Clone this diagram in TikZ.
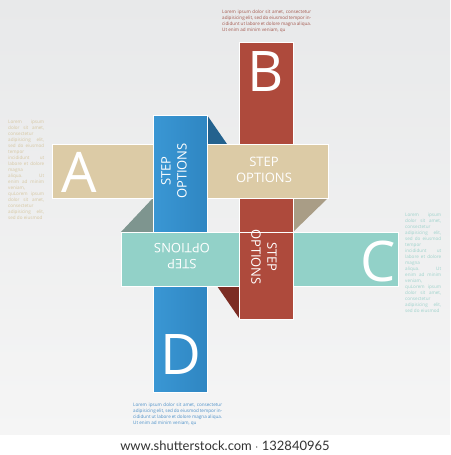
\documentclass[tikz,border=0pt]{standalone}
\usepackage{fontspec}
\setmainfont{Open Sans}
\newfontfamily\footfont{Lato}
\usepackage{tikz}

\definecolor{bgtop}{HTML}{E8E9EA}
\definecolor{bgbot}{HTML}{F5F5F5}
\definecolor{bandred}{HTML}{AE4A3C}
\definecolor{bandblue}{HTML}{3A97D4}
\definecolor{bandbluedark}{HTML}{2F86C2}
\definecolor{bandtan}{HTML}{DCCBA6}
\definecolor{bandteal}{HTML}{92D1C8}
\definecolor{foldblue}{HTML}{24628E}
\definecolor{foldred}{HTML}{7C2D24}
\definecolor{foldtan}{HTML}{A99D86}
\definecolor{foldteal}{HTML}{7E958F}
\definecolor{notered}{HTML}{A3574C}
\definecolor{noteblue}{HTML}{4A8FC8}
\definecolor{notetan}{HTML}{D6C7A2}
\definecolor{noteteal}{HTML}{9DD2CB}

\newcommand{\loremtext}{Lorem ipsum dolor sit amet, consectetur adipisicing elit, sed do eiusmod tempor incididunt ut labore et dolore magna aliqua. Ut enim ad minim veniam, qu}
\newcommand{\loremcolumn}{Lorem ipsum\linebreak dolor sit amet,\linebreak consectetur\linebreak adipisicing elit,\linebreak sed do eiusmod\linebreak tempor\linebreak incididunt ut\linebreak labore et dolore\linebreak magna aliqua. Ut\linebreak enim ad minim\linebreak veniam,\linebreak quLorem ipsum\linebreak dolor sit amet,\linebreak consectetur\linebreak adipisicing elit,\linebreak sed do eiusmod}

\begin{document}
\begin{tikzpicture}[x=1pt, y=-1pt,
    band/.style={draw=white, line width=0.6pt},
    fold/.style={draw=none},
    bigletter/.style={text=white, inner sep=0pt, font=\fontsize{56}{56}\selectfont},
    steptext/.style={text=white, inner sep=0pt, align=center, font=\fontsize{13}{16}\selectfont},
    lorem/.style={inner sep=0pt, anchor=north west, align=justify, font=\fontsize{4.6}{6}\selectfont}]
                    \useasboundingbox (0,0) rectangle (450,455);
                    \shade[top color=bgtop, bottom color=bgbot] (0,0) rectangle (450,435);
                    \fill[white] (0,435) rectangle (450,455);
                    % folds behind the strips
                    \fill[fold, foldblue] (207,115) -- (227,144) -- (207,144) -- cycle;
                    \fill[fold, foldtan] (293,198) -- (328,198) -- (293,232) -- cycle;
                    \fill[fold, foldteal] (121,232) -- (153,198) -- (153,232) -- cycle;
                    \fill[fold, foldred] (217,286) -- (239,286) -- (239,318) -- cycle;
                    % woven strips
                    \path[band, fill=bandred] (239,42) rectangle (293,319);
                    \path[band, fill=bandtan] (52,144) rectangle (328,198);
                    \path[band, left color=bandblue, right color=bandbluedark] (153,115) rectangle (207,392);
                    \path[band, fill=bandteal] (121,232) rectangle (398,286);
                    \path[band, fill=bandred] (239,232) rectangle (293,319);
                    \node[bigletter] (letterA) at (79,172) {A};
                    \node[bigletter] (letterB) at (266,72) {B};
                    \node[bigletter] (letterC) at (378,261) {C};
                    \node[bigletter] (letterD) at (181,355) {D};
                    \node[steptext] (optionsA) at (264,170) {STEP\\OPTIONS};
                    \node[steptext, rotate=90] (optionsD) at (174,171) {STEP\\OPTIONS};
                    \node[steptext, rotate=180] (optionsC) at (182,256) {STEP\\OPTIONS};
                    \node[steptext, rotate=-90] (optionsB) at (264,257) {STEP\\OPTIONS};
                    \node[lorem, text=notered, text width=89pt] (noteB) at (222,10) {\loremtext};
                    \node[lorem, text=noteblue, text width=89pt] (noteD) at (133,403) {\loremtext};
                    \node[lorem, text=notetan, text width=36pt] (noteA) at (8,120) {\loremcolumn};
                    \node[lorem, text=noteteal, text width=36pt] (noteC) at (405,213) {\loremcolumn};
                    \node[text=black!80, inner sep=0pt, font=\footfont\fontsize{13}{13}\selectfont] (footer) at (225,446) {www.shutterstock.com $\cdot$ 132840965};
                \end{tikzpicture}
\end{document}
